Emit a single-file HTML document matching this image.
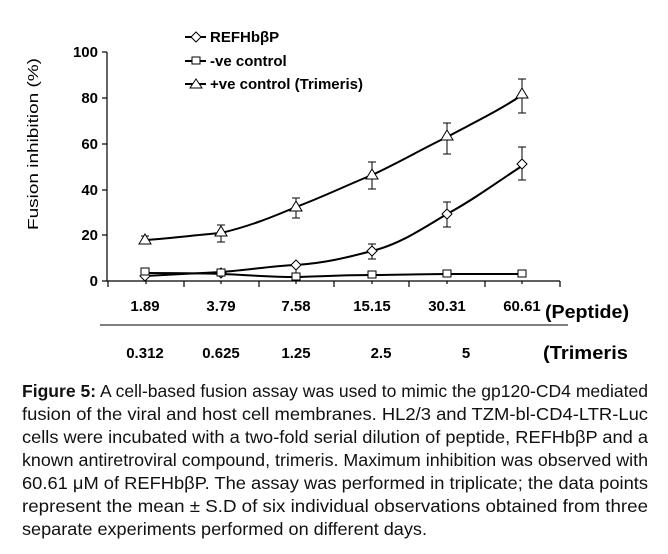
<!DOCTYPE html>
<html><head><meta charset="utf-8"><style>
body{margin:0;background:#fff;width:668px;height:554px;overflow:hidden;position:relative;font-family:"Liberation Sans",Arial,sans-serif}
svg{position:absolute;left:0;top:0}
</style></head><body>
<svg width="668" height="554" viewBox="0 0 668 554" font-family="Liberation Sans, Arial, sans-serif" font-weight="bold" fill="#000">
<g stroke="#000" stroke-width="1.2">
<line x1="107" y1="52" x2="107" y2="281"/>
<line x1="107" y1="281" x2="560" y2="281"/>
<line x1="102" y1="52" x2="107" y2="52"/><line x1="102" y1="98" x2="107" y2="98"/><line x1="102" y1="144" x2="107" y2="144"/><line x1="102" y1="190" x2="107" y2="190"/><line x1="102" y1="235" x2="107" y2="235"/><line x1="102" y1="281" x2="107" y2="281"/>
<line x1="108" y1="281" x2="108" y2="287"/><line x1="184" y1="281" x2="184" y2="287"/><line x1="259" y1="281" x2="259" y2="287"/><line x1="334" y1="281" x2="334" y2="287"/><line x1="409" y1="281" x2="409" y2="287"/><line x1="485" y1="281" x2="485" y2="287"/><line x1="560" y1="281" x2="560" y2="287"/>
<line x1="146" y1="281" x2="146" y2="284"/><line x1="221" y1="281" x2="221" y2="284"/><line x1="296" y1="281" x2="296" y2="284"/><line x1="372" y1="281" x2="372" y2="284"/><line x1="447" y1="281" x2="447" y2="284"/><line x1="522" y1="281" x2="522" y2="284"/>
<line x1="100" y1="325" x2="568" y2="325" stroke-width="1"/>
</g>
<g font-size="15" text-anchor="end">
<text x="98" y="57">100</text><text x="98" y="103">80</text><text x="98" y="149">60</text><text x="98" y="195">40</text><text x="98" y="240">20</text><text x="98" y="286">0</text>
</g>
<text transform="translate(38,144) rotate(-90)" text-anchor="middle" font-size="15" font-weight="normal" textLength="172" lengthAdjust="spacingAndGlyphs">Fusion inhibition (%)</text>
<g font-size="15" text-anchor="middle">
<text x="145" y="311">1.89</text><text x="221" y="311">3.79</text><text x="296" y="311">7.58</text><text x="372" y="311">15.15</text><text x="447" y="311">30.31</text><text x="522" y="311">60.61</text>
<text x="145" y="358">0.312</text><text x="221" y="358">0.625</text><text x="296" y="358">1.25</text><text x="381" y="358">2.5</text><text x="466" y="358">5</text>
</g>
<text x="545" y="318" font-size="18" textLength="84" lengthAdjust="spacingAndGlyphs">(Peptide)</text>
<text x="543" y="359" font-size="18" textLength="85" lengthAdjust="spacingAndGlyphs">(Trimeris</text>
<g fill="none" stroke="#000" stroke-width="2">
<path d="M145,240 C175,238 195,235 221,233 C250,226 270,218 296,207 C325,196 345,186 372,175 C400,162 420,150 447,137 C475,122 500,110 522,95"/>
<path d="M145,276 C180,274 200,273 221,272 C250,270 270,266 296,265 C325,263 345,258 372,251 C400,244 420,230 447,214 C475,199 500,180 522,166"/>
<path d="M145,273 C180,273 200,273 221,274 C250,275 270,277 296,277 C330,276 345,275 372,275 C400,275 420,274 447,274 C475,274 500,274 522,274"/>
</g>
<g fill="none" stroke="#000" stroke-width="1">
<path d="M145,236V243M141,236H149M141,243H149"/>
<path d="M221,225V242M217,225H225M217,242H225"/>
<path d="M296,198V218M292,198H300M292,218H300"/>
<path d="M372,162V189M368,162H376M368,189H376"/>
<path d="M447,123V154M443,123H451M443,154H451"/>
<path d="M522,79V113M518,79H526M518,113H526"/>
<path d="M296,265V273M292,265H300"/>
<path d="M372,244V259M368,244H376M368,259H376"/>
<path d="M447,202V227M443,202H451M443,227H451"/>
<path d="M522,147V180M518,147H526M518,180H526"/>
</g>
<g fill="#fff" stroke="#000" stroke-width="1">
<path d="M145,234l6,10h-12z"/><path d="M221,226l6,10h-12z"/><path d="M296,201l6,10h-12z"/><path d="M372,169l6,10h-12z"/><path d="M447,130l6,10h-12z"/><path d="M522,88l6,10h-12z"/>
<path d="M145,271l5,5l-5,5l-5,-5z"/><path d="M221,268l5,5l-5,5l-5,-5z"/><path d="M296,260l5,5l-5,5l-5,-5z"/><path d="M372,246l5,5l-5,5l-5,-5z"/><path d="M447,209l5,5l-5,5l-5,-5z"/><path d="M522,159l5,5l-5,5l-5,-5z"/>
<rect x="141" y="268" width="8" height="7"/><rect x="217" y="269" width="8" height="7"/><rect x="292" y="273" width="8" height="7"/><rect x="368" y="271" width="8" height="7"/><rect x="443" y="270" width="8" height="7"/><rect x="518" y="270" width="8" height="7"/>
</g>
<g stroke="#000" stroke-width="2"><line x1="185" y1="37" x2="206" y2="37"/><line x1="185" y1="61" x2="206" y2="61"/><line x1="185" y1="84" x2="206" y2="84"/></g>
<g fill="#fff" stroke="#000" stroke-width="1">
<path d="M196,32l5,5l-5,5l-5,-5z"/><rect x="192" y="57" width="8" height="7"/><path d="M196,79l6,9h-12z"/>
</g>
<g font-size="15"><text x="210" y="42">REFHbβP</text><text x="210" y="66">-ve control</text><text x="210" y="89">+ve control (Trimeris)</text></g>
<g font-size="17.5" font-weight="normal" fill="#111">
<text x="22" y="397" textLength="626" lengthAdjust="spacingAndGlyphs"><tspan font-weight="bold">Figure 5:</tspan> A cell-based fusion assay was used to mimic the gp120-CD4 mediated</text>
<text x="22" y="420" textLength="626" lengthAdjust="spacingAndGlyphs">fusion of the viral and host cell membranes. HL2/3 and TZM-bl-CD4-LTR-Luc</text>
<text x="22" y="443" textLength="626" lengthAdjust="spacingAndGlyphs">cells were incubated with a two-fold serial dilution of peptide, REFHbβP and a</text>
<text x="22" y="466" textLength="626" lengthAdjust="spacingAndGlyphs">known antiretroviral compound, trimeris. Maximum inhibition was observed with</text>
<text x="22" y="489" textLength="626" lengthAdjust="spacingAndGlyphs">60.61 μM of REFHbβP. The assay was performed in triplicate; the data points</text>
<text x="22" y="512" textLength="626" lengthAdjust="spacingAndGlyphs">represent the mean ± S.D of six individual observations obtained from three</text>
<text x="22" y="535" textLength="405" lengthAdjust="spacingAndGlyphs">separate experiments performed on different days.</text>
</g>
</svg>
</body></html>
